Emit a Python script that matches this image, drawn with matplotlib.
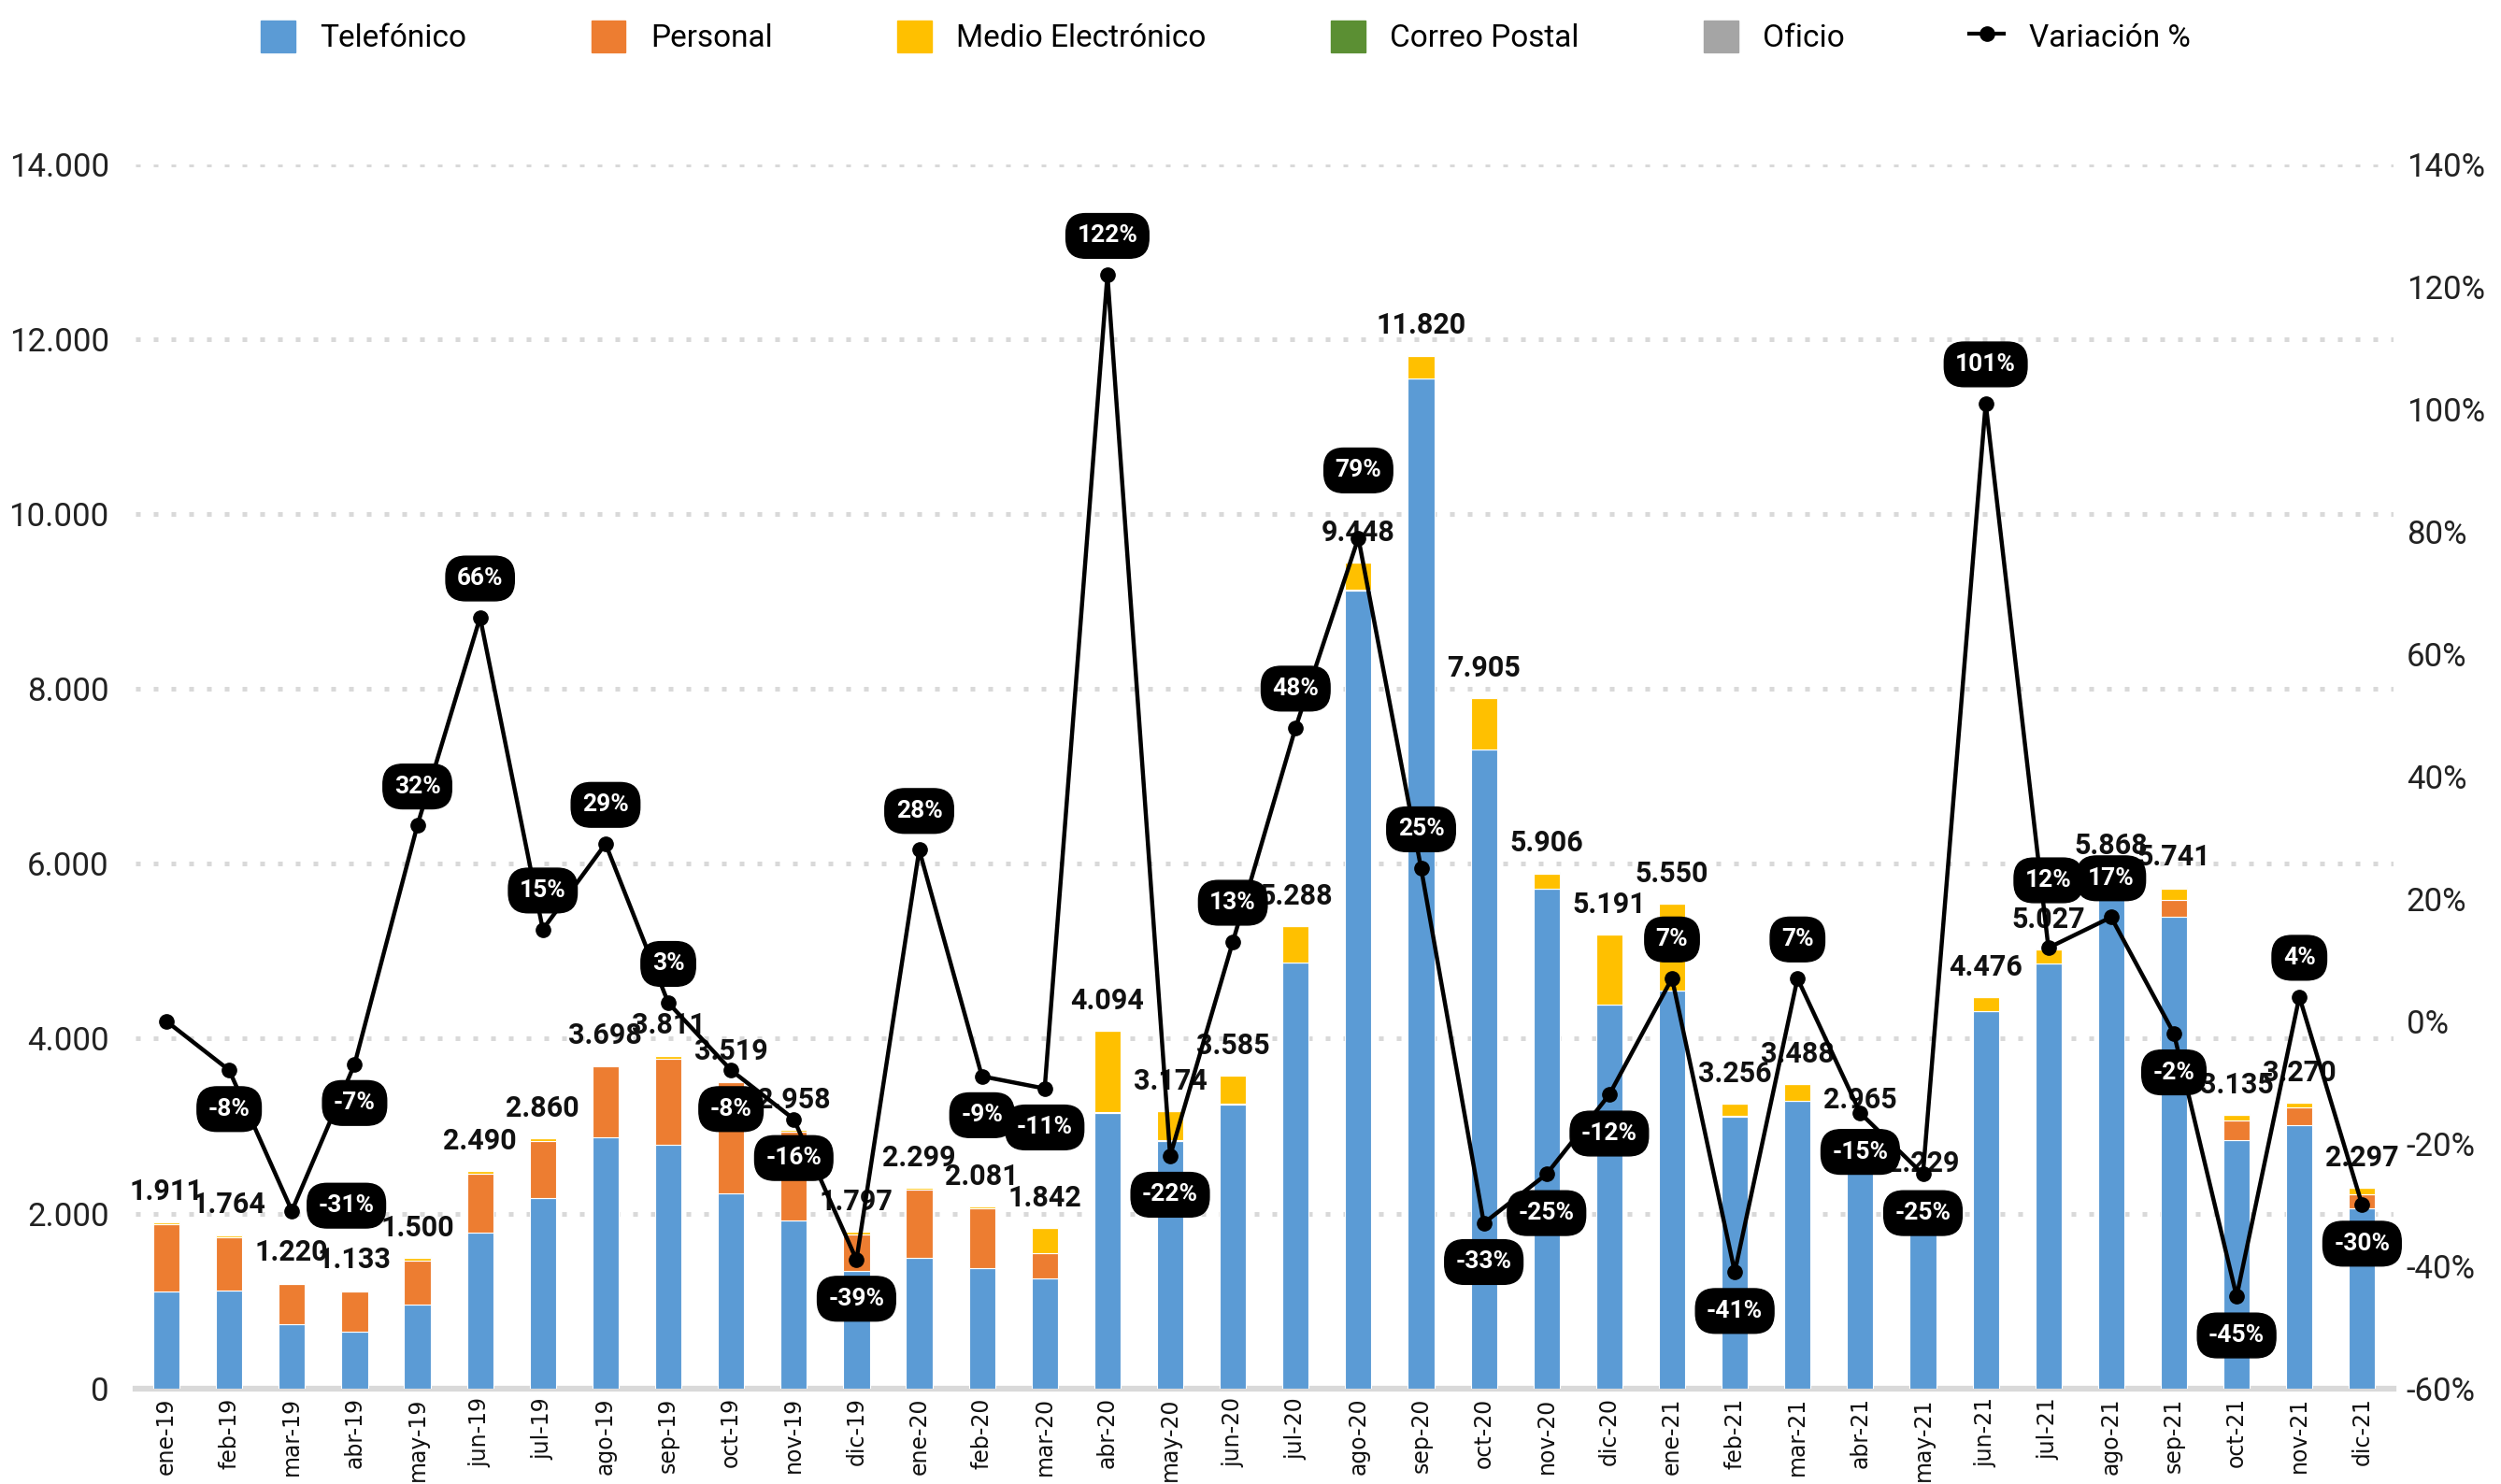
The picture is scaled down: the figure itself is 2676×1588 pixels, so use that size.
import numpy as np
import matplotlib
matplotlib.use("Agg")
import matplotlib.pyplot as plt
from matplotlib.lines import Line2D
from matplotlib.patches import Patch

plt.rcParams['font.family'] = ['Roboto', 'DejaVu Sans']

meses = ["ene-19", "feb-19", "mar-19", "abr-19", "may-19", "jun-19", "jul-19", "ago-19",
         "sep-19", "oct-19", "nov-19", "dic-19", "ene-20", "feb-20", "mar-20", "abr-20",
         "may-20", "jun-20", "jul-20", "ago-20", "sep-20", "oct-20", "nov-20", "dic-20",
         "ene-21", "feb-21", "mar-21", "abr-21", "may-21", "jun-21", "jul-21", "ago-21",
         "sep-21", "oct-21", "nov-21", "dic-21"]

telefonico = [1108, 1120, 738, 653, 953, 1785, 2179, 2868, 2783, 2231, 1919, 1348,
              1493, 1375, 1262, 3150, 2830, 3250, 4868, 9129, 11551, 7306, 5714, 4387,
              4547, 3110, 3290, 2790, 2180, 4310, 4860, 5700, 5393, 2840, 3010, 2055]
personal = [770, 608, 451, 455, 507, 669, 649, 815, 990, 1270, 1020, 417,
            779, 682, 280, 8, 5, 5, 5, 4, 4, 4, 4, 4,
            5, 3, 3, 3, 5, 3, 3, 40, 192, 223, 203, 162]
medio = [20, 20, 15, 15, 30, 30, 28, 12, 30, 15, 15, 25,
         22, 20, 292, 930, 335, 326, 411, 311, 261, 591, 170, 796,
         994, 140, 192, 169, 30, 160, 161, 124, 132, 68, 54, 75]
correo = [5, 6, 6, 4, 4, 3, 2, 2, 4, 2, 3, 4,
          3, 2, 4, 3, 2, 2, 2, 2, 2, 2, 8, 2,
          2, 1, 1, 1, 5, 1, 1, 2, 12, 2, 1, 2]
oficio = [8, 10, 10, 6, 6, 3, 2, 1, 4, 1, 1, 3,
          2, 2, 4, 3, 2, 2, 2, 2, 2, 2, 10, 2,
          2, 2, 2, 2, 9, 2, 2, 2, 12, 2, 2, 3]
totales = [1911, 1764, 1220, 1133, 1500, 2490, 2860, 3698, 3811, 3519, 2958, 1797,
           2299, 2081, 1842, 4094, 3174, 3585, 5288, 9448, 11820, 7905, 5906, 5191,
           5550, 3256, 3488, 2965, 2229, 4476, 5027, 5868, 5741, 3135, 3270, 2297]
variacion = [0, -8, -31, -7, 32, 66, 15, 29, 3, -8, -16, -39,
             28, -9, -11, 122, -22, 13, 48, 79, 25, -33, -25, -12,
             7, -41, 7, -15, -25, 101, 12, 17, -2, -45, 4, -30]

# where each % label sits relative to its point (a=above, b=below, r=right)
pos_label = ["", "b", "r", "b", "a", "a", "a", "a", "a", "b", "b", "b",
             "a", "b", "b", "a", "b", "a", "a", "a", "a", "b", "b", "b",
             "a", "b", "a", "b", "b", "a", "a", "a", "b", "b", "a", "b"]

c_tel = "#5B9BD5"
c_per = "#ED7D31"
c_med = "#FFC000"
c_cor = "#5B8F33"
c_ofi = "#A5A5A5"

fig = plt.figure(figsize=(26.76, 15.88), dpi=100)
ax = fig.add_axes([0.054, 0.0645, 0.903, 0.8245])
ax2 = ax.twinx()

x = np.arange(len(meses))
w = 0.42
series = [(telefonico, c_tel), (personal, c_per), (medio, c_med), (correo, c_cor), (oficio, c_ofi)]
base = np.zeros(len(meses))
for vals, col in series:
    ax.bar(x, vals, w, bottom=base, color=col, edgecolor="white", linewidth=0.8, zorder=3)
    base = base + np.array(vals)

for i, t in enumerate(totales):
    ax.annotate(f"{t:,}".replace(",", "."), (x[i], base[i]), xytext=(0, 12),
                textcoords="offset points", ha="center", va="bottom",
                fontsize=22, fontweight="bold", color="#111111", zorder=5)

ax.set_ylim(0, 14000)
ax.set_xlim(-0.5, len(meses) - 0.5)
ax.set_yticks(np.arange(0, 14001, 2000))
ax.set_yticklabels([f"{v:,}".replace(",", ".") for v in range(0, 14001, 2000)])
ax.set_xticks(x)
ax.set_xticklabels(meses, rotation=90, family="DejaVu Sans")
ax.tick_params(axis="x", length=0, labelsize=17, pad=7, colors="#111111")
ax.tick_params(axis="y", length=0, labelsize=25, pad=20, colors="#222222")
ax.grid(axis="y", color="#D9D9D9", linestyle=(0, (1, 2.8)), linewidth=3.6, zorder=0)
ax.set_axisbelow(True)
for s in ["top", "left", "right"]:
    ax.spines[s].set_visible(False)
ax.spines["bottom"].set_color("#D9D9D9")
ax.spines["bottom"].set_linewidth(4.5)

var = np.array(variacion) / 100
ax2.plot(x, var, color="black", linewidth=3.2, marker="o", markersize=11, zorder=6)
ax2.set_ylim(-0.6, 1.4)
ax2.set_yticks(np.arange(-0.6, 1.41, 0.2))
ax2.set_yticklabels([f"{int(round(v * 100))}%" for v in np.arange(-0.6, 1.41, 0.2)])
ax2.tick_params(axis="y", length=0, labelsize=25, pad=10, colors="#222222")
for s in ["top", "left", "right", "bottom"]:
    ax2.spines[s].set_visible(False)

box = dict(boxstyle="round,pad=0.45,rounding_size=0.8", fc="black", ec="black")
for i, p in enumerate(pos_label):
    if p == "":
        continue
    if p == "a":
        off = (0, 30)
    elif p == "b":
        off = (0, -30)
    else:
        off = (42, 4)
    if meses[i] in ("ago-20", "jul-21"):
        off = (0, 52)
    ax2.annotate(f"{variacion[i]}%", (x[i], var[i]), xytext=off, textcoords="offset points",
                 ha="center", va="center", fontsize=19, fontweight="bold", color="white",
                 bbox=box, zorder=7)

handles = [Patch(color=c_tel), Patch(color=c_per), Patch(color=c_med), Patch(color=c_cor),
           Patch(color=c_ofi),
           Line2D([0], [0], color="black", linewidth=3, marker="o", markersize=11)]
labels = ["Telefónico", "Personal", "Medio Electrónico", "Correo Postal", "Oficio", "Variación %"]
fig.legend(handles, labels, loc="center", bbox_to_anchor=(0.49, 0.975), ncol=6, frameon=False,
           fontsize=24, handlelength=1.1, handleheight=1.2, columnspacing=4.0, handletextpad=0.8)

fig.savefig("out.png", dpi=100)
